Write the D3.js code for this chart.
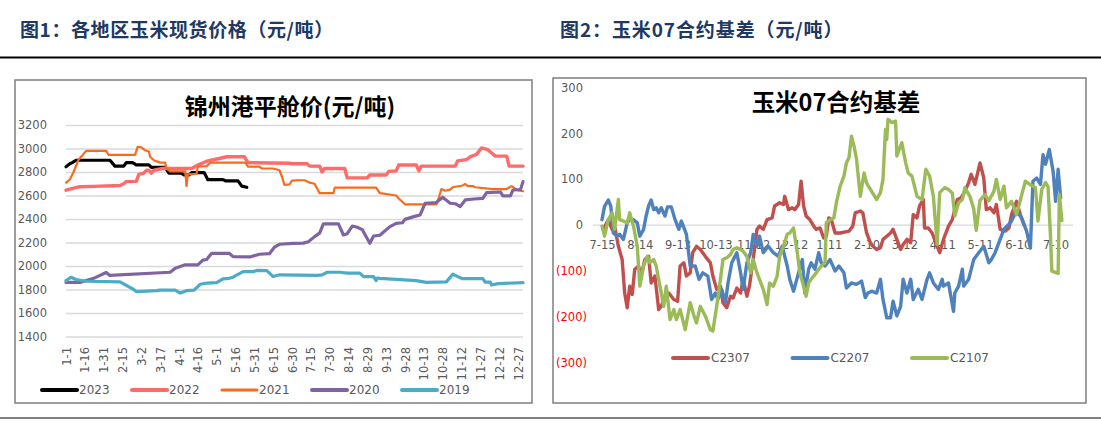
<!DOCTYPE html>
<html><head><meta charset="utf-8">
<script src="https://cdn.jsdelivr.net/npm/d3@7"></script>
<style>
body{margin:0;background:#fff;}
svg{display:block;}
</style></head><body>
<svg id="c" width="1101" height="421"></svg>
<script>
// ---------------- DATA ----------------
// Left chart: 锦州港平舱价, x = day of year (0 = 1-1)
const leftXLabels = ["1-1","1-16","1-31","2-15","3-2","3-17","4-1","4-16","5-1","5-16","5-31","6-15","6-30","7-15","7-30","8-14","8-29","9-13","9-28","10-13","10-28","11-12","11-27","12-12","12-27"];
const leftYTicks = [1400,1600,1800,2000,2200,2400,2600,2800,3000,3200];
const leftSeriesNames = ["2023","2022","2021","2020","2019"];
const s2023 = [[0,2845],[3,2870],[5,2880],[8,2900],[20,2900],[35,2900],[39,2850],[46,2850],[48,2880],[53,2880],[56,2860],[66,2860],[68,2840],[79,2840],[82,2790],[92,2790],[94,2775],[98,2775],[100,2795],[110,2795],[113,2735],[125,2735],[127,2725],[137,2725],[140,2680],[144,2670]];
const s2022 = [[0,2645],[3,2655],[6,2662],[11,2675],[22,2678],[43,2685],[46,2700],[48,2718],[56,2720],[58,2780],[62,2790],[64,2815],[66,2815],[68,2790],[70,2815],[77,2830],[100,2830],[105,2860],[113,2895],[122,2915],[128,2930],[142,2930],[145,2880],[178,2875],[180,2870],[192,2870],[194,2850],[202,2850],[204,2800],[206,2830],[222,2830],[224,2750],[240,2750],[242,2775],[255,2775],[257,2805],[263,2810],[265,2860],[279,2860],[281,2810],[283,2850],[310,2850],[312,2895],[319,2905],[322,2930],[327,2950],[331,3005],[336,2990],[342,2935],[351,2935],[353,2850],[364,2850]];
const s2021 = [[0,2710],[3,2735],[6,2800],[10,2905],[16,2980],[32,2980],[34,2945],[55,2945],[57,3015],[60,3010],[63,2985],[66,2975],[67,2930],[70,2900],[75,2880],[79,2880],[80,2830],[83,2805],[95,2805],[96,2680],[97,2780],[104,2785],[105,2845],[112,2850],[115,2880],[143,2880],[145,2845],[154,2845],[156,2830],[165,2830],[170,2815],[172,2760],[174,2690],[178,2695],[180,2726],[184,2730],[190,2730],[194,2710],[198,2700],[202,2620],[213,2620],[214,2667],[247,2667],[250,2620],[263,2600],[265,2575],[270,2525],[295,2525],[297,2585],[299,2655],[302,2640],[306,2650],[308,2670],[316,2685],[318,2698],[320,2680],[324,2681],[326,2670],[340,2655],[351,2655],[355,2680],[359,2648],[364,2636]];
const s2020 = [[0,1860],[11,1860],[22,1895],[32,1945],[35,1920],[83,1947],[87,1980],[91,1995],[95,2010],[105,2010],[109,2050],[112,2055],[116,2108],[130,2108],[133,2080],[147,2078],[154,2100],[162,2105],[166,2160],[170,2185],[181,2193],[189,2195],[193,2207],[198,2250],[202,2280],[205,2358],[217,2358],[221,2264],[224,2275],[228,2340],[232,2330],[236,2310],[238,2270],[242,2193],[245,2255],[250,2262],[253,2290],[258,2335],[263,2363],[268,2368],[270,2397],[277,2420],[282,2434],[286,2534],[295,2540],[300,2585],[306,2534],[310,2530],[314,2505],[318,2562],[325,2570],[332,2575],[335,2624],[346,2630],[348,2596],[354,2596],[356,2647],[362,2650],[364,2718]];
const s2019 = [[0,1875],[4,1904],[8,1885],[16,1870],[43,1865],[48,1835],[54,1800],[56,1782],[72,1790],[75,1795],[87,1795],[91,1770],[96,1790],[102,1795],[107,1845],[112,1855],[120,1858],[125,1890],[130,1895],[133,1905],[141,1952],[149,1952],[152,1962],[160,1960],[165,1910],[170,1925],[200,1920],[204,1925],[208,1947],[218,1947],[224,1940],[234,1940],[237,1910],[245,1910],[247,1875],[248,1898],[250,1895],[279,1875],[287,1860],[303,1865],[308,1930],[313,1905],[316,1892],[332,1892],[334,1862],[338,1862],[339,1838],[344,1850],[364,1858]];

// Right chart: 玉米07合约基差, x = days since 7-15
const rightXLabels = ["7-15","8-14","9-13","10-13","11-12","12-12","1-11","2-10","3-12","4-11","5-11","6-10","7-10"];
const rightYTicks = [300,200,100,0,-100,-200,-300];
const rightSeriesNames = ["C2307","C2207","C2107"];
const c2307 = [[1,-9],[5,12],[8,-9],[10,-2],[13,-46],[16,-75],[18,-148],[20,-180],[22,-133],[24,-151],[26,-96],[29,-89],[31,-111],[34,-75],[37,-68],[39,-126],[42,-111],[45,-184],[47,-177],[50,-155],[53,-148],[57,-162],[60,-166],[62,-89],[65,-82],[67,-111],[70,-104],[72,-60],[75,-46],[78,-53],[82,-68],[86,-82],[88,-111],[91,-140],[94,-133],[96,-169],[99,-180],[102,-155],[104,-159],[107,-137],[110,-148],[112,-118],[115,-155],[117,-133],[120,-75],[123,-9],[125,-2],[128,-9],[131,12],[135,16],[137,42],[141,49],[144,45],[145,63],[148,34],[151,38],[153,34],[156,45],[158,96],[160,42],[162,20],[165,12],[168,-2],[170,-9],[173,-6],[176,-28],[178,-24],[180,16],[182,12],[185,-17],[189,-17],[196,-13],[199,-2],[201,27],[205,31],[207,27],[210,-17],[213,-38],[215,-46],[218,-53],[221,-49],[223,-31],[226,-24],[229,-17],[231,-9],[234,-31],[237,-53],[239,-42],[242,-31],[245,-38],[247,23],[250,16],[252,42],[255,56],[256,-6],[259,-6],[262,-17],[266,-46],[268,-60],[271,-31],[275,-2],[278,12],[282,56],[285,60],[288,74],[291,93],[293,111],[296,89],[300,136],[303,103],[305,34],[308,38],[311,27],[313,45],[316,-9],[320,-13],[323,-6],[325,23],[329,52],[332,23],[335,0]];
const c2207 = [[0,12],[2,41],[5,55],[7,41],[9,-17],[12,-24],[14,-20],[17,-31],[20,5],[22,12],[25,12],[28,5],[30,-24],[33,-9],[35,20],[37,42],[39,55],[41,34],[43,38],[45,27],[47,38],[50,20],[52,40],[55,40],[58,12],[61,-9],[63,9],[67,-20],[70,-89],[74,-89],[77,-118],[80,-104],[84,-111],[87,-162],[90,-148],[92,-162],[95,-140],[98,-169],[100,-126],[103,-82],[107,-60],[110,-104],[112,-140],[115,-82],[118,-60],[120,-20],[123,-46],[125,-24],[128,-60],[132,-46],[136,-60],[140,-68],[143,-46],[147,-89],[149,-118],[152,-144],[156,-104],[159,-75],[161,-148],[164,-96],[166,-82],[169,-96],[172,-60],[174,-82],[177,-89],[181,-75],[185,-100],[188,-89],[192,-104],[194,-137],[198,-126],[202,-129],[206,-122],[209,-158],[211,-148],[214,-144],[218,-148],[221,-118],[223,-162],[226,-202],[229,-202],[231,-166],[234,-198],[237,-177],[239,-118],[242,-148],[245,-118],[247,-162],[251,-140],[254,-162],[258,-118],[260,-104],[263,-126],[267,-140],[270,-118],[271,-133],[275,-126],[279,-188],[280,-148],[283,-133],[286,-96],[287,-133],[291,-118],[295,-75],[299,-60],[303,-46],[307,-82],[309,-75],[312,-60],[315,-38],[319,-9],[323,2],[325,9],[329,31],[333,16],[337,-13],[340,-50],[342,96],[345,103],[348,89],[350,154],[352,133],[355,165],[358,118],[360,52],[362,122],[364,60]];
const c2107 = [[0,-2],[2,-24],[5,12],[8,27],[10,-9],[13,56],[14,12],[17,9],[20,5],[22,27],[25,-2],[28,-46],[30,-133],[33,-89],[36,-68],[38,-82],[41,-75],[43,-89],[46,-133],[49,-177],[51,-133],[54,-206],[57,-184],[59,-206],[62,-184],[66,-228],[70,-169],[73,-198],[75,-213],[78,-177],[82,-198],[86,-228],[88,-231],[91,-177],[94,-118],[96,-75],[99,-71],[102,-64],[104,-53],[107,-49],[110,-53],[112,-57],[115,-68],[118,-104],[120,-75],[123,-104],[125,-118],[128,-140],[131,-173],[133,-126],[136,-133],[139,-111],[141,-68],[144,-46],[147,-20],[149,-17],[152,-6],[155,-60],[157,-104],[160,-133],[162,-155],[164,-126],[166,-118],[170,-104],[174,-89],[177,-82],[178,5],[181,12],[184,16],[186,49],[189,85],[192,107],[194,136],[196,147],[198,194],[200,173],[202,144],[205,63],[208,114],[210,92],[214,74],[218,56],[221,71],[223,100],[225,209],[226,187],[227,231],[230,224],[233,227],[234,151],[237,173],[238,180],[241,136],[243,114],[246,107],[250,63],[254,56],[257,122],[260,107],[263,63],[266,-42],[268,71],[272,82],[275,78],[278,70],[280,20],[283,49],[286,56],[288,82],[292,63],[295,36],[297,-11],[300,54],[304,67],[307,53],[311,74],[313,100],[316,56],[319,85],[321,38],[325,52],[329,23],[332,55],[336,96],[340,88],[344,82],[346,9],[349,78],[352,93],[354,84],[356,-27],[357,-100],[362,-105],[363,67],[365,10]];

// ---------------- DRAW ----------------
const svg = d3.select("#c");
const TICKFONT = "DejaVu Sans";
const CJK = "Noto Sans CJK SC";

// header titles
svg.append("text").attr("x",20).attr("y",37).attr("font-family",CJK).attr("font-weight",700)
  .attr("font-size",19).attr("letter-spacing",0.6).attr("fill","#203864").text("图1：各地区玉米现货价格（元/吨）");
svg.append("text").attr("x",560).attr("y",37).attr("font-family",CJK).attr("font-weight",700)
  .attr("font-size",19).attr("letter-spacing",0.9).attr("fill","#203864").text("图2：玉米07合约基差（元/吨）");
// rules
svg.append("line").attr("x1",0).attr("x2",1101).attr("y1",57.5).attr("y2",57.5).attr("stroke","#000").attr("stroke-width",2);
svg.append("line").attr("x1",0).attr("x2",1101).attr("y1",418).attr("y2",418).attr("stroke","#000").attr("stroke-width",1.2);

// ===== LEFT CHART =====
const L = svg.append("g");
L.append("rect").attr("x",15).attr("y",80).attr("width",517).attr("height",323)
  .attr("fill","#fff").attr("stroke","#7f7f7f").attr("stroke-width",1.5);
const lx = d3.scaleLinear().domain([0,364]).range([66,523]);
const ly = d3.scaleLinear().domain([1400,3200]).range([336.5,125]);

L.append("text").attr("x",290).attr("y",115).attr("text-anchor","middle")
  .attr("font-family",CJK).attr("font-weight",700).attr("font-size",23).attr("fill","#000")
  .text("锦州港平舱价(元/吨)");

const lyAxis = d3.axisLeft(ly).tickValues(leftYTicks).tickSize(-(523-66)).tickFormat(d3.format("d"));
const gly = L.append("g").attr("transform","translate(66,0)").call(lyAxis);
gly.select(".domain").remove();
gly.selectAll(".tick line").attr("stroke","#d9d9d9").attr("stroke-width",1.3);
gly.selectAll(".tick text").attr("x",-19).attr("font-family",TICKFONT).attr("font-size",11.5).attr("fill","#595959");

const lxAxis = d3.axisBottom(lx).tickValues(leftXLabels.map((_,i)=>i*15)).tickSize(0)
  .tickFormat((d,i)=>leftXLabels[i]);
const glx = L.append("g").attr("transform","translate(0,347)").call(lxAxis);
glx.select(".domain").remove();
glx.selectAll(".tick text").attr("transform","rotate(-90)").attr("text-anchor","end")
  .attr("x",0).attr("y",0).attr("dy","0.35em")
  .attr("font-family",TICKFONT).attr("font-size",11.5).attr("fill","#595959");

const leftColors = ["#000000","#ff6b6b","#f96a1b","#8064a2","#4bacc6"];
const leftWidths = [3.2,3.4,2.2,3.2,3.2];
const leftData = [s2023,s2022,s2021,s2020,s2019];
const lline = d3.line().x(d=>lx(d[0])).y(d=>ly(d[1]));
leftData.forEach((s,i)=>{
  L.append("path").datum(s).attr("d",lline).attr("fill","none")
   .attr("stroke",leftColors[i]).attr("stroke-width",leftWidths[i])
   .attr("stroke-linejoin","round").attr("stroke-linecap","round");
});
const lleg = L.append("g");
leftSeriesNames.forEach((n,i)=>{
  const x0 = 42 + i*90;
  lleg.append("line").attr("x1",x0).attr("x2",x0+35).attr("y1",390).attr("y2",390)
    .attr("stroke",leftColors[i]).attr("stroke-width",leftWidths[i]+0.8).attr("stroke-linecap","round");
  lleg.append("text").attr("x",x0+37).attr("y",390).attr("dy","0.35em")
    .attr("font-family",TICKFONT).attr("font-size",12).attr("fill","#595959").text(n);
});

// ===== RIGHT CHART =====
const R = svg.append("g");
R.append("rect").attr("x",553).attr("y",78).attr("width",533).attr("height",325)
  .attr("fill","#fff").attr("stroke","#7f7f7f").attr("stroke-width",1.5);
const rx = d3.scaleLinear().domain([0,365]).range([602,602+365*1.26]);
const ry = d3.scaleLinear().domain([-300,300]).range([362.7,87.7]);

R.append("text").attr("x",836).attr("y",111).attr("text-anchor","middle")
  .attr("font-family",CJK).attr("font-weight",700).attr("font-size",23.5).attr("fill","#000")
  .text("玉米07合约基差");

// zero gridline
R.append("line").attr("x1",593).attr("x2",1073).attr("y1",ry(0)).attr("y2",ry(0))
  .attr("stroke","#d9d9d9").attr("stroke-width",1.3);

const ryg = R.append("g");
rightYTicks.forEach(v=>{
  ryg.append("text").attr("x", v<0 ? 587 : 583).attr("y",ry(v)).attr("dy","0.35em")
    .attr("text-anchor","end").attr("font-family",TICKFONT).attr("font-size",11.5)
    .attr("fill", v<0 ? "#ff0000" : "#595959")
    .text(v<0 ? "(" + d3.format("d")(-v) + ")" : d3.format("d")(v));
});

const rxAxis = d3.axisBottom(rx).tickValues(rightXLabels.map((_,i)=>i*30)).tickSize(0)
  .tickFormat((d,i)=>rightXLabels[i]);
const grx = R.append("g").attr("transform","translate(0,241)").call(rxAxis);
grx.select(".domain").remove();
grx.selectAll(".tick text").attr("y",0).attr("dy","0.71em")
  .attr("font-family",TICKFONT).attr("font-size",11.5).attr("fill","#595959");

const rightColors = ["#c0504d","#4f81bd","#9bbb59"];
const rightData = [c2307,c2207,c2107];
const rline = d3.line().x(d=>rx(d[0])).y(d=>ry(d[1]));
rightData.forEach((s,i)=>{
  R.append("path").datum(s).attr("d",rline).attr("fill","none")
   .attr("stroke",rightColors[i]).attr("stroke-width",3.4)
   .attr("stroke-linejoin","round").attr("stroke-linecap","round");
});
const rleg = R.append("g");
rightSeriesNames.forEach((n,i)=>{
  const x0 = 673 + i*119.5;
  rleg.append("line").attr("x1",x0).attr("x2",x0+35).attr("y1",358).attr("y2",358)
    .attr("stroke",rightColors[i]).attr("stroke-width",4).attr("stroke-linecap","round");
  rleg.append("text").attr("x",x0+38).attr("y",358).attr("dy","0.35em")
    .attr("font-family",TICKFONT).attr("font-size",12).attr("fill","#595959").text(n);
});
</script>
</body></html>
